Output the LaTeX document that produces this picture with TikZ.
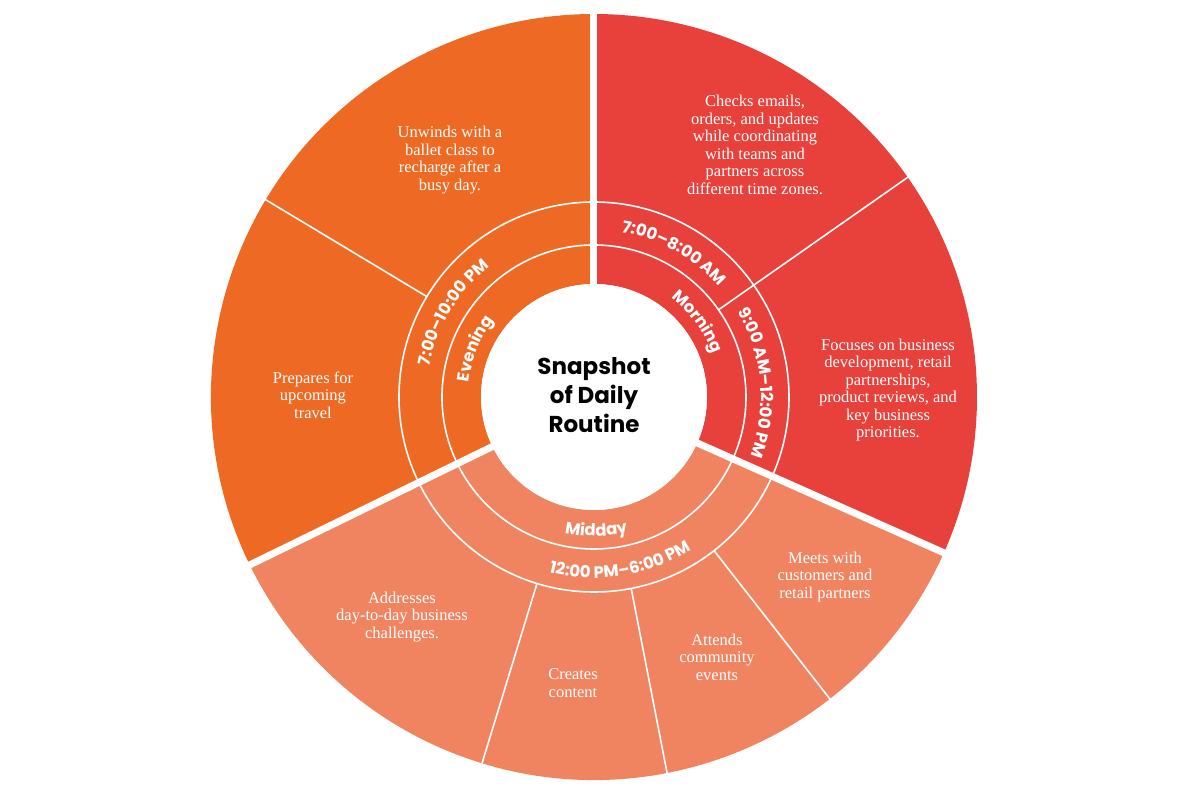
\documentclass[tikz,border=0pt]{standalone}
\usepackage{fontspec}
\setmainfont{Liberation Serif}
\newfontfamily\lab{Poppins}
\usetikzlibrary{decorations.text}
\definecolor{cEve}{HTML}{EE6A24}
\definecolor{cMor}{HTML}{E8403B}
\definecolor{cMid}{HTML}{F08461}
\newcommand{\mysector}[3]{\fill[#3] (#1:113) arc[start angle=#1,end angle=#2,radius=113] -- (#2:383) arc[start angle=#2,end angle=#1,radius=383] -- cycle;}
\tikzset{
  body/.style={text=white, align=center, font=\fontsize{16.5}{17.5}\selectfont},
  thin/.style={white, line width=1.6pt},
  gap/.style={white, line width=7pt},
  cwlabel/.style={decorate, decoration={text along path, text align=center, text color=white, text={|\lab\bfseries\fontsize{16.5}{16.5}\selectfont|#1}}},
}
\begin{document}
\begin{tikzpicture}[x=1pt,y=1pt]
\useasboundingbox (-594,-403) rectangle (606,397);
\fill[white] (-594,-403) rectangle (606,397);
\mysector{-24}{90}{cMor}
\mysector{90}{206}{cEve}
\mysector{206}{336}{cMid}
% ring boundaries
\draw[thin] (0,0) circle[radius=152];
\draw[thin] (0,0) circle[radius=195];
% sub splits
\draw[thin] (35:152) -- (35:385);
\draw[thin] (149:195) -- (149:385);
\draw[thin] (-52:195) -- (-52:385);
\draw[thin] (-79:195) -- (-79:385);
\draw[thin] (-107:195) -- (-107:385);
% main gaps
\draw[gap] (90:100) -- (90:390);
\draw[gap] (-24:100) -- (-24:390);
\draw[gap] (206:100) -- (206:390);
\fill[white] (0,0) circle[radius=113];
% curved labels
\path[cwlabel=Morning] (76:126) arc[start angle=76,end angle=-4,radius=126];
\path[cwlabel=7:00–8:00 AM] (101:167) arc[start angle=101,end angle=21,radius=167];
\path[cwlabel=9:00 AM–12:00 PM] (51:167) arc[start angle=51,end angle=-41,radius=167];
\path[cwlabel=Evening] (198:126) arc[start angle=198,end angle=118,radius=126];
\path[cwlabel=7:00–10:00 PM] (189:167) arc[start angle=189,end angle=109,radius=167];
\path[cwlabel=Midday] (-129:139) arc[start angle=-129,end angle=-49,radius=139];
\path[cwlabel=12:00 PM–6:00 PM] (-125:181) arc[start angle=-125,end angle=-37,radius=181];
% title
\node[align=center, font=\lab\bfseries\fontsize{23}{29}\selectfont] (title) at (0,2) {Snapshot\\of Daily\\Routine};
% body texts
\node[body] (unw) at (-144,237) {Unwinds with a\\ballet class to\\recharge after a\\busy day.};
\node[body] (chk) at (161,252) {Checks emails,\\orders, and updates\\while coordinating\\with teams and\\partners across\\different time zones.};
\node[body] (foc) at (294,7) {Focuses on business\\development, retail\\partnerships,\\product reviews, and\\key business\\priorities.};
\node[body] (prep) at (-281,2) {Prepares for\\upcoming\\travel};
\node[body] (addr) at (-192,-220) {Addresses\\day-to-day business\\challenges.};
\node[body] (crt) at (-21,-286) {Creates\\content};
\node[body] (att) at (123,-260) {Attends\\community\\events};
\node[body] (meet) at (231,-180) {Meets with\\customers and\\retail partners};
\end{tikzpicture}
\end{document}
